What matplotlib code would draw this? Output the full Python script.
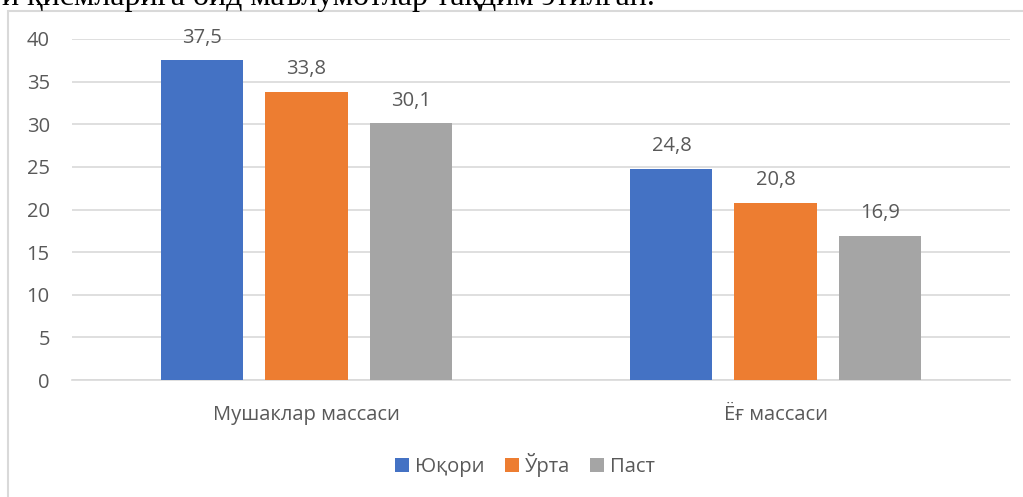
import matplotlib.pyplot as plt
import numpy as np
from matplotlib.patches import Rectangle

categories = ["Мушаклар массаси", "Ёғ массаси"]
series = ["Юқори", "Ўрта", "Паст"]
values = [
    [37.5, 24.8],
    [33.8, 20.8],
    [30.1, 16.9],
]
colors = ["#4472C4", "#ED7D31", "#A5A5A5"]
yticks = [0, 5, 10, 15, 20, 25, 30, 35, 40]

plt.rcParams['font.family'] = ['Open Sans', 'DejaVu Sans']
txt = "#595959"
fs = 14.5

fig = plt.figure(figsize=(10.23, 4.97), dpi=100)
W, H = 1023, 497

# chart frame
fig.patches.append(Rectangle((8 / W, -0.01), 1.02, 1 - 11 / H + 0.01, transform=fig.transFigure,
                             fill=False, edgecolor="#D9D9D9", linewidth=1.5))
# cut-off document line above the chart
fig.text(655 / W, 1 - 5 / H, "и қисмларига оид маълумотлар тақдим этилган.",
         fontsize=23, family=['Liberation Serif'], color="black", va="baseline", ha="right")

ax = fig.add_axes([72 / W, 1 - 380 / H, (1010 - 72) / W, (380 - 39) / H])
x = np.arange(len(categories))
width = 0.175
offsets = [-0.222, 0, 0.222]
for i, s in enumerate(series):
    bars = ax.bar(x + offsets[i], values[i], width, color=colors[i], label=s, zorder=3)
    for b, v in zip(bars, values[i]):
        ax.annotate(f"{v:.1f}".replace(".", ","), (b.get_x() + b.get_width() / 2, v),
                    xytext=(0, 9), textcoords="offset points", ha="center", va="bottom",
                    fontsize=fs, color=txt)

ax.set_xlim(-0.5, 1.5)
ax.set_ylim(0, 40)
ax.set_yticks(yticks)
ax.yaxis.grid(True, color="#D9D9D9", linewidth=1.2, zorder=0)
ax.set_axisbelow(True)
for sp in ["top", "right", "left"]:
    ax.spines[sp].set_visible(False)
ax.spines["bottom"].set_color("#D9D9D9")
ax.spines["bottom"].set_linewidth(1.2)
ax.tick_params(axis="y", length=0, pad=16, labelsize=fs, labelcolor=txt)
ax.tick_params(axis="x", length=0, pad=18, labelsize=fs, labelcolor=txt)
ax.set_xticks(x)
ax.set_xticklabels(categories)

fig.legend(loc="center", bbox_to_anchor=(525 / W, 1 - 465 / H), ncol=3, frameon=False,
           fontsize=fs, labelcolor=txt, handlelength=0.7, handleheight=0.7,
           handletextpad=0.3, columnspacing=1.0)

fig.savefig("out.png", dpi=100)
